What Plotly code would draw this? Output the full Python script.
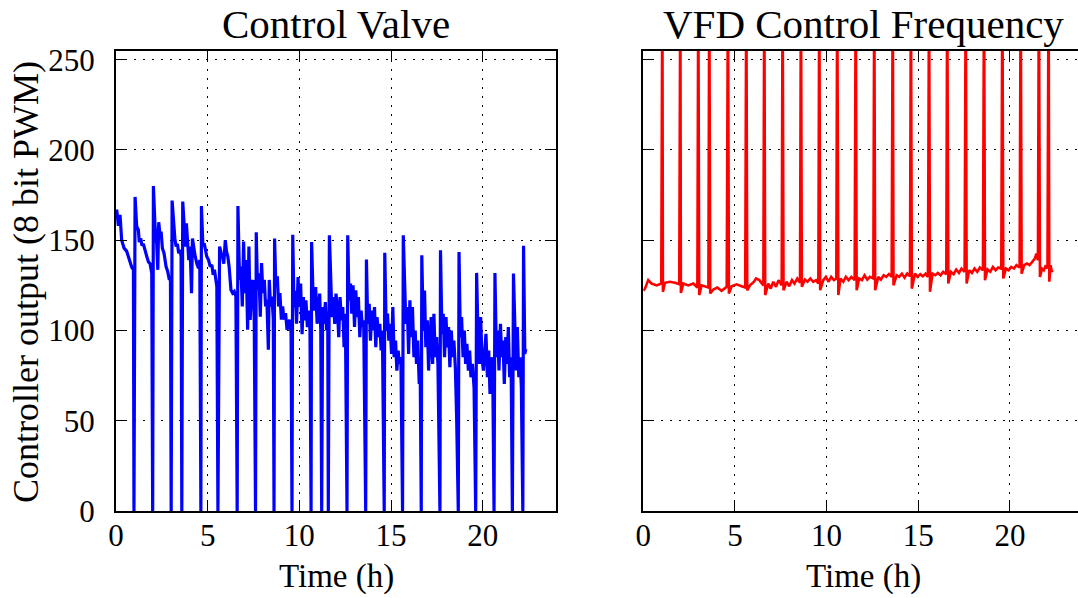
import plotly.graph_objects as go

# ---------------- data ----------------
# Control valve output (blue), time in hours
time_cv = [
    0.00, 0.04, 0.13, 0.22, 0.31, 0.44, 0.58, 0.67, 0.77, 0.86, 0.95, 0.98,
    1.04, 1.13, 1.22, 1.27, 1.35, 1.42, 1.49, 1.58, 1.68, 1.77, 1.86, 1.95, 2.00,
    2.04, 2.13, 2.22, 2.28, 2.33, 2.40, 2.46, 2.53, 2.62, 2.73, 2.82, 2.91, 2.97, 3.01,
    3.06, 3.13, 3.21, 3.28, 3.35, 3.42, 3.50, 3.55, 3.59,
    3.64, 3.72, 3.79, 3.84, 3.90, 3.97, 4.04, 4.12, 4.17, 4.23, 4.32, 4.41, 4.50, 4.57, 4.63,
    4.66, 4.74, 4.81, 4.88, 4.95, 5.05, 5.14, 5.23, 5.30, 5.37, 5.45, 5.50, 5.56,
    5.61, 5.65, 5.74, 5.81, 5.88, 5.96, 6.03, 6.10, 6.17, 6.27, 6.36, 6.45, 6.54, 6.61,
    6.65, 6.74, 6.81, 6.89, 6.96, 7.03, 7.10, 7.18, 7.25, 7.32, 7.40, 7.47, 7.54, 7.61,
    7.65, 7.72, 7.80, 7.87, 7.94, 8.01, 8.09, 8.16, 8.23, 8.31, 8.36, 8.43, 8.51, 8.58, 8.62,
    8.65, 8.72, 8.80, 8.87, 8.94, 9.02, 9.09, 9.16, 9.25, 9.33, 9.40, 9.47, 9.55, 9.60,
    9.64, 9.71, 9.78, 9.85, 9.93, 10.00, 10.07, 10.15, 10.22, 10.29, 10.36, 10.44, 10.51, 10.58, 10.64,
    10.67, 10.75, 10.82, 10.89, 10.97, 11.04, 11.11, 11.17, 11.22,
    11.27, 11.35, 11.42, 11.49, 11.55, 11.58,
    11.64, 11.71, 11.78, 11.86, 11.93, 12.00, 12.08, 12.15, 12.22, 12.30, 12.37, 12.44, 12.51, 12.60,
    12.64, 12.71, 12.79, 12.86, 12.93, 13.01, 13.08, 13.15, 13.22, 13.30, 13.37, 13.44, 13.51, 13.62,
    13.66, 13.73, 13.81, 13.88, 13.95, 14.03, 14.10, 14.17, 14.24, 14.32, 14.39, 14.46, 14.53, 14.63,
    14.66, 14.74, 14.81, 14.88, 14.95, 15.03, 15.10, 15.17, 15.25, 15.32, 15.39, 15.46, 15.54, 15.63,
    15.67, 15.74, 15.81, 15.89, 15.96, 16.03, 16.10, 16.17, 16.25, 16.32, 16.39, 16.46, 16.54, 16.59, 16.65,
    16.68, 16.76, 16.83, 16.90, 16.98, 17.05, 17.12, 17.19, 17.27, 17.34, 17.41, 17.49, 17.56, 17.67,
    17.70, 17.78, 17.85, 17.92, 18.00, 18.07, 18.14, 18.21, 18.29, 18.36, 18.43, 18.51, 18.58, 18.67,
    18.71, 18.78, 18.85, 18.93, 19.00, 19.07, 19.14, 19.22, 19.29, 19.36, 19.44, 19.53, 19.62,
    19.67, 19.74, 19.82, 19.89, 19.96, 20.04, 20.11, 20.18, 20.26, 20.33, 20.40, 20.47, 20.55, 20.62,
    20.67, 20.75, 20.82, 20.89, 20.97, 21.04, 21.11, 21.18, 21.26, 21.33, 21.40, 21.47, 21.55, 21.62,
    21.68, 21.75, 21.82, 21.89, 21.97, 22.04, 22.11, 22.19, 22.23, 22.30, 22.35,
]
valve = [
    163, 167, 158, 164, 150, 145.6, 144, 141, 138, 135, 133.6, 0,
    174, 157.6, 155.7, 149, 151, 147, 148, 143.7, 141, 138, 137, 131.7, 0,
    180, 157.6, 148, 133.6, 160, 153, 154.8, 145.6, 142.8, 135.4, 132.7, 128, 130, 0,
    172, 161, 151, 146.5, 148, 142.8, 144.6, 141, 0,
    171.4, 153.9, 146.5, 159.4, 152, 139, 146.5, 120.7, 151, 146.5, 141, 137, 134.5, 139, 0,
    169, 146.5, 148.3, 144.6, 141, 139, 135.4, 136.3, 130.8, 133.6, 126, 124.4, 0,
    143.7, 146.5, 142.8, 141, 137, 150, 143.7, 141, 135.4, 122.5, 120.7, 121.6, 118.8, 0,
    169, 128, 135.4, 113.3, 149.3, 120.7, 139, 100.4, 146.5, 105.9, 126, 128, 106, 0,
    154.4, 122.5, 131.7, 107.7, 137.3, 120.7, 128, 113.3, 117, 89.3, 128, 113.3, 118.8, 106, 0,
    151, 124.4, 130, 113.3, 120.7, 106, 113.3, 106, 109.6, 100.4, 103, 106, 98.5, 0,
    153, 113, 122, 103.7, 129.6, 113, 126, 98, 118.5, 105.6, 116.7, 101.9, 111, 100, 0,
    149, 118.5, 111, 124, 103.7, 113, 120.4, 100, 0,
    113, 103.7, 115.7, 100, 107.4, 0,
    152.8, 122, 107.4, 118.5, 103.7, 120.4, 111, 96.3, 118.5, 105.6, 113, 90.7, 109.3, 0,
    152.8, 116.7, 126, 109.3, 125, 101.9, 122.2, 107.4, 118.5, 96.3, 111, 101.9, 105.6, 0,
    139.3, 103.7, 114.8, 94.4, 111, 100, 113, 90.7, 107.4, 96.3, 103.7, 88.9, 100, 0,
    143, 100, 109.3, 94.4, 103.7, 87, 113, 85.2, 94.4, 77.8, 88.9, 81.5, 85.2, 0,
    152.8, 127.8, 103.7, 113, 87, 116.7, 96.3, 113, 85.2, 100, 81.5, 94.4, 70.4, 81.5, 0,
    141.7, 100, 122.2, 90.7, 105.6, 77.8, 94.4, 107.4, 81.5, 109.3, 85.2, 96.3, 81.5, 0,
    144.4, 98, 109.3, 85.2, 107.4, 90.7, 101.9, 79.6, 100, 85.2, 94.4, 79.6, 51.9, 0,
    143.5, 96.3, 107.4, 85.2, 100, 81.5, 92.6, 77.8, 88.9, 74.1, 81.5, 68.5, 0,
    131.9, 100, 81.5, 107.4, 85.2, 77.8, 90.7, 98.1, 74.1, 88.9, 64.8, 85.2, 75.9, 0,
    131.9, 85.2, 100, 77.8, 103.7, 85.2, 94.4, 70.4, 96.3, 81.5, 101.9, 74.1, 85.2, 0,
    131.5, 94.4, 77.8, 101.9, 74.1, 85.2, 68.5, 0, 146.9, 87, 89.8,
]

# VFD control frequency (red), time in hours
time_vfd = [
    0.00, 0.09, 0.27, 0.45, 0.73, 0.98, 1.04, 1.07, 1.18, 1.45, 1.73, 1.96,
    2.02, 2.05, 2.18, 2.45, 2.73, 2.95, 3.00, 3.05, 3.18, 3.36, 3.55,
    3.60, 3.65, 3.82, 4.04, 4.27, 4.55, 4.62, 4.67, 4.82, 5.09, 5.36, 5.56,
    5.62, 5.67, 5.82, 6.04, 6.15, 6.33, 6.55, 6.60, 6.65, 6.82, 6.95, 7.09, 7.24, 7.38, 7.55,
    7.60, 7.65, 7.82, 7.96, 8.11, 8.25, 8.40, 8.55, 8.60, 8.65, 8.82, 8.96, 9.11, 9.27, 9.42, 9.55,
    9.60, 9.65, 9.82, 9.96, 10.11, 10.25, 10.40, 10.53, 10.58, 10.64, 10.76, 10.91, 11.05, 11.20, 11.35, 11.53,
    11.59, 11.64, 11.78, 11.93, 12.07, 12.22, 12.36, 12.55, 12.60, 12.65, 12.82, 12.96, 13.11, 13.25, 13.40, 13.55,
    13.61, 13.65, 13.82, 13.96, 14.11, 14.25, 14.40, 14.55, 14.60, 14.65, 14.82, 14.96, 15.11, 15.25, 15.40, 15.53,
    15.59, 15.64, 15.78, 15.93, 16.07, 16.22, 16.36, 16.53, 16.58, 16.64, 16.78, 16.93, 17.07, 17.22, 17.36, 17.53,
    17.59, 17.64, 17.78, 17.93, 18.07, 18.22, 18.36, 18.53, 18.59, 18.64, 18.78, 18.93, 19.07, 19.22, 19.36, 19.53,
    19.59, 19.64, 19.78, 19.93, 20.07, 20.22, 20.36, 20.53, 20.59, 20.64, 20.78, 20.93, 21.07, 21.22, 21.36, 21.45, 21.53,
    21.58, 21.64, 21.75, 21.85, 21.96, 22.05, 22.11, 22.15, 22.22, 22.29, 22.33,
]
vfd = [
    122, 123.2, 127.9, 126, 125, 126, 300, 121.4, 126.4, 127, 126.4, 125.6,
    300, 120.8, 126, 125, 126, 123.8, 300, 119.6, 125, 124.2, 123.8,
    300, 120.5, 122.7, 123.8, 122, 124.2, 300, 120.5, 124.5, 125.6, 124.5, 123.8,
    300, 122.3, 125, 127, 128.8, 127.9, 125, 300, 119.6, 126, 123.2, 127, 124.2, 127.9, 125,
    300, 122.3, 127, 124.5, 127.9, 126, 128.8, 126.4, 300, 124.2, 128.2, 127, 128.8, 127, 127.9, 126,
    300, 122.3, 127.9, 129.7, 127, 129.7, 127.9, 128.8, 300, 119.6, 128.8, 127, 129.7, 127.9, 129.7, 127.9,
    300, 122.3, 128.8, 127.9, 130.6, 128.2, 129.7, 128.8, 300, 122.3, 129.7, 128.2, 130.6, 129.7, 131.2, 129.7,
    300, 125, 130.6, 129.7, 131.5, 129.3, 131.5, 130, 300, 123.2, 131.5, 129.7, 131.2, 130, 131.5, 129.7,
    300, 121.4, 131.5, 130.6, 131.9, 130.6, 132.5, 131.2, 300, 126, 132.5, 131.2, 133.8, 131.9, 134.3, 132.5,
    300, 126, 133.4, 131.9, 134.3, 132.5, 134.9, 133.4, 300, 127.9, 133.8, 132.5, 135.2, 133.4, 134.9, 134.3,
    300, 128.8, 134.3, 133.4, 135.2, 134.3, 136.2, 134.9, 300, 131.5, 136.2, 137.1, 136.2, 138, 139.9, 142.6, 138.9,
    300, 129.7, 134.3, 133.4, 136.2, 134.3, 300, 127, 136.2, 132.5, 133.4,
]

titles = ["Control Valve", "VFD Control Frequency"]
x_label = "Time (h)"
y_label = "Controller output (8 bit PWM)"
x_ticks = [0, 5, 10, 15, 20]
y_ticks = [0, 50, 100, 150, 200, 250]

# ---------------- figure ----------------
W, H = 1078, 598
FONT = "Liberation Serif"

fig = go.Figure()
fig.add_trace(go.Scatter(x=time_cv, y=valve, mode="lines",
                         line=dict(color="#0000ff", width=3.2), xaxis="x", yaxis="y",
                         showlegend=False, hoverinfo="skip"))
fig.add_trace(go.Scatter(x=time_vfd, y=vfd, mode="lines",
                         line=dict(color="#ff0000", width=2.6), xaxis="x2", yaxis="y2",
                         showlegend=False, hoverinfo="skip"))

ydom = [87 / H, (H - 50.7) / H]
common = dict(
    showline=True, linecolor="black", linewidth=2,
    ticks="inside", ticklen=11, tickwidth=1, tickcolor="black",
    showgrid=True, gridcolor="black", gridwidth=1, griddash="2px,7px",
    zeroline=False, automargin=False,
    tickfont=dict(family=FONT, size=31, color="black"),
)

fig.update_layout(
    template="none",
    width=W, height=H,
    margin=dict(l=0, r=0, t=0, b=0, pad=0),
    paper_bgcolor="white", plot_bgcolor="white",
    xaxis=dict(domain=[116 / W, 556 / W], range=[0, 24], tickvals=x_ticks,
               mirror="ticks", anchor="y", ticklabelstandoff=-4, **common),
    yaxis=dict(domain=ydom, range=[0, 255], tickvals=y_ticks,
               mirror="ticks", anchor="x", ticklabelstandoff=13, **common),
    xaxis2=dict(domain=[643.3 / W, 1.0], range=[0, (W - 643.3) / 18.33], tickvals=x_ticks,
                mirror="ticks", anchor="y2", ticklabelstandoff=-4, **common),
    yaxis2=dict(domain=ydom, range=[0, 255], tickvals=y_ticks, showticklabels=False,
                mirror=False, anchor="x2", **common),
)

ann = []
ann.append(dict(text=titles[0], x=336 / W, y=(H - 24) / H, xref="paper", yref="paper",
                xanchor="center", yanchor="middle", showarrow=False,
                font=dict(family=FONT, size=41, color="black")))
ann.append(dict(text=titles[1], x=863.7 / W, y=(H - 24) / H, xref="paper", yref="paper",
                xanchor="center", yanchor="middle", showarrow=False,
                font=dict(family=FONT, size=41, color="black")))
for cx in [336, 863.7]:
    ann.append(dict(text=x_label, x=cx / W, y=(H - 576) / H, xref="paper", yref="paper",
                    xanchor="center", yanchor="middle", showarrow=False,
                    font=dict(family=FONT, size=33, color="black")))
ann.append(dict(text=y_label, x=26 / W, y=(H - 282) / H, xref="paper", yref="paper",
                xanchor="center", yanchor="middle", textangle=-90, showarrow=False,
                font=dict(family=FONT, size=36, color="black")))
fig.update_layout(annotations=ann)

fig.write_html("out.html", config={"displayModeBar": False},
               post_script="document.body.style.margin='0';document.body.style.overflow='hidden';")
